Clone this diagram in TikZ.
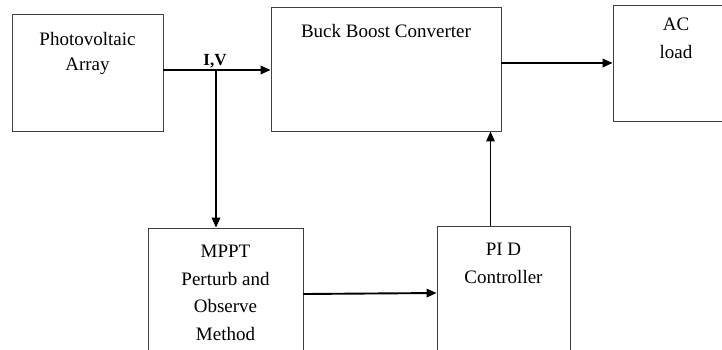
\documentclass[tikz,border=0pt]{standalone}
\usepackage{fontspec}
\setmainfont{Liberation Serif}
\usetikzlibrary{arrows.meta, positioning, calc}

\begin{document}
\begin{tikzpicture}[x=1pt, y=-1pt, >={Triangle[length=10pt, width=8.5pt]},
    blk/.style={draw=black!75, line width=0.9pt, inner sep=0pt},
    txt/.style={align=center, font=\fontsize{19}{27.5}\selectfont, anchor=north},
    flow/.style={->, line width=1.9pt}]
    % 画布范围（超出部分裁掉）
    \clip (0,0) rectangle (722,349);

    % 方框
    \node[blk, minimum width=151pt, minimum height=117pt] (pv) at (87.5,72.5) {};
    \node[blk, minimum width=230pt, minimum height=124pt] (bb) at (386,69) {};
    \node[blk, minimum width=122pt, minimum height=116pt] (ac) at (674,63) {};
    \node[blk, minimum width=155pt, minimum height=132pt] (mppt) at (225.5,294) {};
    \node[blk, minimum width=133pt, minimum height=134pt] (pid) at (503.5,293) {};

    % 方框中的文字（靠上）
    \node[txt, below=15pt of pv.north, anchor=north, text depth=0pt] (pvtext) {Photovoltaic\\[-2pt]Array};
    \node[txt, below=14pt of bb.north, anchor=north] (bbtext) {Buck Boost Converter};
    \node[txt, below=10pt of ac.north, xshift=2pt, anchor=north] (actext) {AC\\load};
    \node[txt, below=14pt of mppt.north, anchor=north] (mppttext) {MPPT\\Perturb and\\Observe\\Method};
    \node[txt, below=14pt of pid.north, anchor=north] (pidtext) {PI D\\Controller};

    % 连线
    \coordinate (tap) at (216,70);
    \draw[flow] (pv.east |- tap) -- (bb.west |- tap);
    \node[font=\fontsize{17}{17}\selectfont\bfseries, above=-1.5pt of tap, xshift=-1pt] (iv) {I,V};
    \draw[flow] (tap) -- (tap |- mppt.north);
    \draw[flow] (bb.east |- ac.west) -- (ac.west);
    \draw[flow] (mppt.east) -- (pid.west);
    \draw[flow] ([xshift=-13pt]pid.north) -- ([xshift=-13pt]pid.north |- bb.south);
\end{tikzpicture}
\end{document}
